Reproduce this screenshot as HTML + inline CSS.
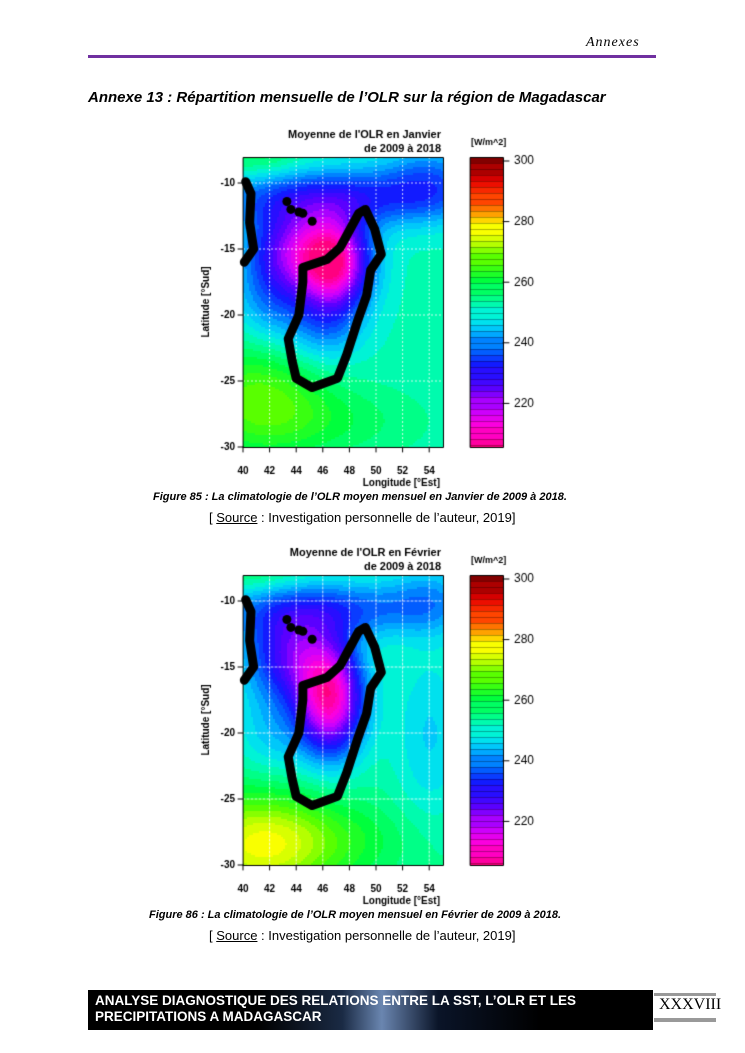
<!DOCTYPE html>
<html><head><meta charset="utf-8">
<style>
body{margin:0;background:#fff;width:745px;height:1053px;position:relative;overflow:hidden;font-family:"Liberation Sans",sans-serif}
.a{position:absolute;white-space:nowrap}
canvas{position:absolute}
</style></head><body>
<div class="a" style="left:586px;top:35px;font-family:'Liberation Serif',serif;font-style:italic;font-size:14px;letter-spacing:1px">Annexes</div>
<div class="a" style="left:88px;top:55px;width:568px;height:3px;background:#7030a0"></div>
<div class="a" style="left:88px;top:89px;font-weight:bold;font-style:italic;font-size:15px">Annexe 13 : Répartition mensuelle de l’OLR sur la région de Magadascar</div>

<canvas id="c" width="745" height="1053" style="left:0;top:0"></canvas>

<div class="a" style="left:153px;top:491px;font-weight:bold;font-style:italic;font-size:11px">Figure 85 : La climatologie de l’OLR moyen mensuel en Janvier de 2009 à 2018.</div>
<div class="a" style="left:209px;top:510px;font-size:13px">[ <u>Source</u> : Investigation personnelle de l’auteur, 2019]</div>
<div class="a" style="left:149px;top:909px;font-weight:bold;font-style:italic;font-size:11px">Figure 86 : La climatologie de l’OLR moyen mensuel en Février de 2009 à 2018.</div>
<div class="a" style="left:209px;top:928px;font-size:13px">[ <u>Source</u> : Investigation personnelle de l’auteur, 2019]</div>

<div class="a" style="left:88px;top:990px;width:565px;height:40px;background:linear-gradient(90deg,#000 30%,#1a2a44 45%,#6a86b0 52%,#0a1428 62%,#000 80%)"></div>
<div class="a" style="left:95px;top:993px;color:#fff;font-weight:bold;font-size:13.5px;line-height:16px">ANALYSE DIAGNOSTIQUE DES RELATIONS ENTRE LA SST, L’OLR ET LES<br>PRECIPITATIONS A MADAGASCAR</div>
<div class="a" style="left:654px;top:993px;width:62px;height:3px;background:#999"></div>
<div class="a" style="left:654px;top:1018px;width:62px;height:4px;background:#999"></div>
<div class="a" style="left:659px;top:996px;font-family:'Liberation Serif',serif;font-size:16px">XXXVIII</div>

<script>
const cv=document.getElementById('c'),x=cv.getContext('2d');
const stops=[[205,[255,0,128]],[212,[255,0,220]],[218,[200,0,255]],[225,[90,0,255]],[232,[20,20,255]],[238,[0,100,255]],[244,[0,190,255]],[249,[0,240,230]],[254,[0,255,150]],[260,[0,255,60]],[267,[80,255,0]],[273,[190,255,0]],[278,[255,255,0]],[282,[255,170,0]],[288,[255,60,0]],[294,[230,0,0]],[300,[130,0,0]]];
function col(v){v=Math.max(205,Math.min(300,Math.round(v/2.5)*2.5));for(let i=1;i<stops.length;i++){if(v<=stops[i][0]){const a=stops[i-1],b=stops[i],t=(v-a[0])/(b[0]-a[0]);return 'rgb('+a[1].map((c,k)=>Math.round(c+(b[1][k]-c)*t)).join(',')+')';}}return 'rgb(130,0,0)';}
function G(lo,la,cx,cy,sx,sy){return Math.exp(-((lo-cx)**2/(2*sx*sx)+(la-cy)**2/(2*sy*sy)));}
function jan(lo,la){return 252-42*G(lo,la,46.8,-16,1.9,2.5)-24*G(lo,la,43.5,-15,2.3,2.3)-18*G(lo,la,47,-11,7,1.6)-10*G(lo,la,54,-9.5,2.5,2)+14*G(lo,la,41,-26,3.5,3)+6*G(lo,la,46,-28,5,2)+7*G(lo,la,41,-8,2.5,1.2)-10*G(lo,la,46,-21,2,2)-10*G(lo,la,42,-19,2,2.5);}
function feb(lo,la){return 254-42*G(lo,la,46.5,-17.5,1.8,3)-25*G(lo,la,43.5,-14,2.5,2.5)-16*G(lo,la,47,-10.5,7,1.6)-6*G(lo,la,54,-9,2,2)+20*G(lo,la,41,-28.5,4,3)+6*G(lo,la,46,-28,5,2)-8*G(lo,la,54,-20,2,5)-8*G(lo,la,42,-20,2,2.5)+5*G(lo,la,41,-8,2.5,1);}
const mad=[[49.2,-12],[49.9,-13.5],[50.4,-15.4],[49.6,-16.6],[49.3,-18.5],[48.6,-20.5],[47.8,-23],[47.1,-24.8],[45.2,-25.5],[44,-24.8],[43.7,-23.5],[43.4,-21.8],[44.2,-20],[44.5,-17.5],[44.5,-16.4],[46.3,-15.8],[47.3,-14.9],[48,-13.6],[48.7,-12.3],[49.2,-12]];
function plot(oy,f,t1,t2){
 const X=lo=>243+(lo-40)*13.3,Y=la=>oy+183+(-10-la)*13.2;
 for(let px=243;px<443;px+=2)for(let py=oy+157;py<oy+447;py+=2){const lo=40+(px-243)/13.3,la=-10-(py-oy-183)/13.2;x.fillStyle=col(f(lo,la));x.fillRect(px,py,2,2);}
 x.strokeStyle='rgba(255,255,255,0.8)';x.lineWidth=1;x.setLineDash([2,2]);
 for(let lo=42;lo<=54;lo+=2){x.beginPath();x.moveTo(X(lo),oy+157);x.lineTo(X(lo),oy+447);x.stroke();}
 for(let la=-10;la>=-25;la-=5){x.beginPath();x.moveTo(243,Y(la));x.lineTo(443,Y(la));x.stroke();}
 x.setLineDash([]);x.strokeStyle='#000';x.lineWidth=9;x.lineJoin='round';x.lineCap='round';
 x.beginPath();mad.forEach((p,i)=>i?x.lineTo(X(p[0]),Y(p[1])):x.moveTo(X(p[0]),Y(p[1])));x.stroke();
 x.beginPath();x.moveTo(X(40.2),Y(-9.9));x.lineTo(X(40.6),Y(-10.8));x.lineTo(X(40.5),Y(-13));x.lineTo(X(40.8),Y(-15));x.lineTo(X(40.1),Y(-16));x.stroke();
 x.fillStyle='#000';[[43.3,-11.4],[43.6,-12],[44.2,-12.2],[44.5,-12.3],[45.2,-12.9]].forEach(p=>{x.beginPath();x.arc(X(p[0]),Y(p[1]),4.5,0,7);x.fill();});
 x.lineWidth=1;x.strokeRect(243.5,oy+157.5,200,290);
 x.font='bold 10px "Liberation Sans"';x.textAlign='right';x.textBaseline='middle';
 [-10,-15,-20,-25,-30].forEach(la=>{x.beginPath();x.moveTo(238,Y(la));x.lineTo(243,Y(la));x.stroke();x.fillText(la,235,Y(la));});
 x.textAlign='center';x.textBaseline='top';
 for(let lo=40;lo<=54;lo+=2){x.beginPath();x.moveTo(X(lo),oy+447);x.lineTo(X(lo),oy+452);x.stroke();x.fillText(lo,X(lo),oy+466);}
 x.textAlign='right';x.fillText('Longitude [°Est]',440,oy+478);
 x.font='bold 11px "Liberation Sans"';x.fillText(t1,441,oy+129);x.fillText(t2,441,oy+143);
 x.save();x.translate(207,oy+302);x.rotate(-Math.PI/2);x.textAlign='center';x.font='bold 10px "Liberation Sans"';x.fillText('Latitude [°Sud]',0,-6);x.restore();
 for(let py=oy+157;py<oy+447;py+=6){const v=300-(py-oy-158)/3.03;x.fillStyle=col(v);x.fillRect(470,py,33,Math.min(6,oy+447-py));x.fillStyle='rgba(0,0,0,0.5)';x.fillRect(470,py,33,0.6);}
 x.strokeStyle='#000';x.strokeRect(470.5,oy+157.5,33,290);
 x.textAlign='left';x.textBaseline='middle';x.font='12px "Liberation Sans"';x.fillStyle='#000';
 [300,280,260,240,220].forEach(v=>{const y=oy+161+(300-v)*3.03;x.beginPath();x.moveTo(503,y);x.lineTo(509,y);x.stroke();x.fillText(v,514,y);});
 x.font='bold 9px "Liberation Sans"';x.fillText('[W/m^2]',471,oy+143);
}
plot(0,jan,"Moyenne de l'OLR en Janvier","de 2009 à 2018");
plot(418,feb,"Moyenne de l'OLR en Février","de 2009 à 2018");
</script>
</body></html>
